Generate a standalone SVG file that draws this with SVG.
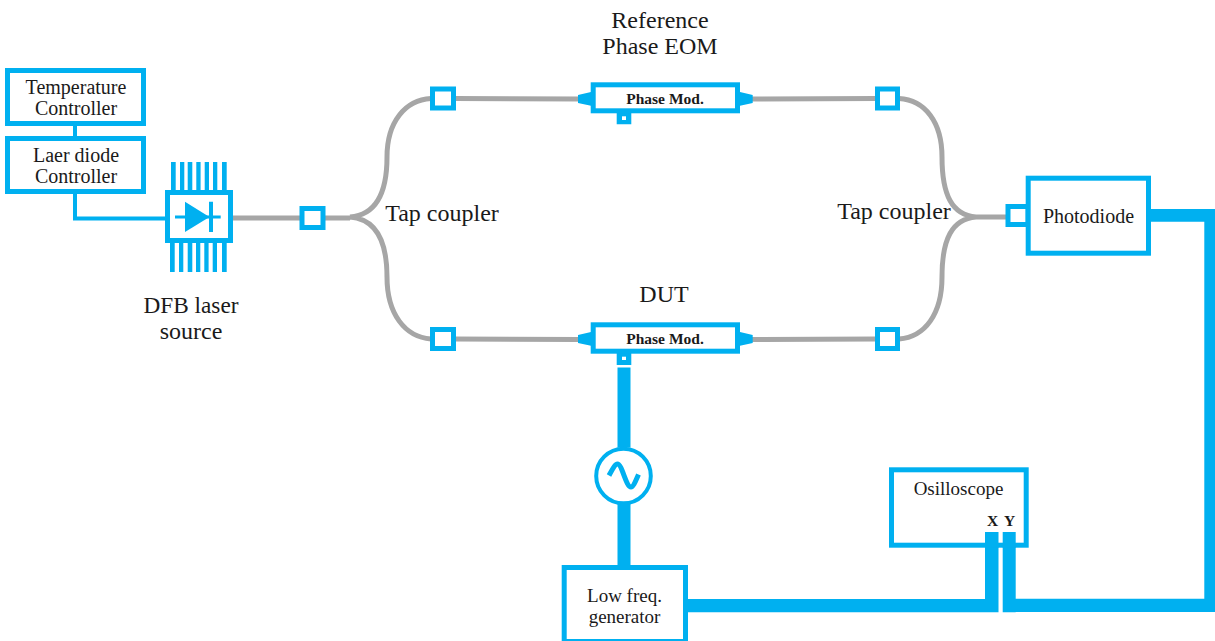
<svg xmlns="http://www.w3.org/2000/svg" width="1215" height="641" viewBox="0 0 1215 641">
<style>
.box{fill:#fff;stroke:#00b0f0;stroke-width:5}
.sq{fill:#fff;stroke:#00b0f0;stroke-width:5}
.fib{fill:none;stroke:#a6a6a6;stroke-width:5}
.thin{fill:none;stroke:#00b0f0;stroke-width:4}
.thick{fill:#00b0f0}
.blue{fill:#00b0f0}
text{font-family:"Liberation Serif",Georgia,serif;fill:#1a1a1a;text-anchor:middle}
.s17{font-size:20px}
.s19{font-size:19px}
.s21{font-size:24px}
.b{font-weight:bold;font-size:15.500px}
</style>
<rect width="1215" height="641" fill="#fff"/>
<g id="connectors">
<path class="thin" d="M75 125V137M75 193V218.500H167"/>
<path class="fib" d="M233 218H350M350 217C375 215 387 195 387 157C387 122 405 100 431 98.500M350 217C375 219 387 239 387 277C387 314 405 337 431 339"/>
<path class="fib" d="M455 98.500L580 99M455 339L580 339.500M752 99L876 98.500M752 339.500L876 339"/>
<path class="fib" d="M1006 217H976M976 217C952 215 942 195 942 157C942 122 925 100 899 98.500M976 217C952 219 942 239 942 277C942 314 925 337 899 339"/>
<path class="thick" d="M617.500 367.500h13v80h-13zM617.500 504h13v64h-13zM686 599H998.500V612.300H686zM985 532H998.500V612.300H985zM1002.700 532H1015.700V612.300H1002.700zM1015 598.700H1215V612H1015zM1204.300 209H1215V612H1204.300zM1150 209H1215V221.700H1150z"/>
</g>
<g id="temperature-controller"><rect class="box" x="7.500" y="70.500" width="136" height="53"/><text class="s17" x="76" y="93.500">Temperature</text><text class="s17" x="76" y="114.500">Controller</text></g>
<g id="laser-diode-controller"><rect class="box" x="7.500" y="138.500" width="136" height="53"/><text class="s17" x="76" y="161.500">Laer diode</text><text class="s17" x="76" y="182.500">Controller</text></g>
<g id="dfb-laser">
<path class="blue" d="M171 162h4.700v28H171zM180 162h4.300v28H180zM187.700 162h4.600v28h-4.600zM196.300 162h4.300v28h-4.300zM204.700 162h4.300v28h-4.300zM213 162h4.300v28H213zM222 162h4.700v28H222zM170 243h4.700v29H170zM179 243h4.300v29H179zM187.700 243h4.600v29h-4.600zM196 243h4.300v29H196zM204.300 243h4.300v29h-4.300zM212.700 243h4.300v29h-4.300zM222 243h4.700v29H222z"/>
<rect class="box" x="167.500" y="192.500" width="63" height="48"/>
<path class="blue" d="M185 201.700V232L209.500 217z"/>
<path class="blue" d="M209 201.700h4V232h-4zM175 215.500h45.700v3H175z"/>
<text class="s21" x="191" y="312.500" textLength="95" lengthAdjust="spacingAndGlyphs">DFB laser</text><text class="s21" x="191" y="338.500">source</text>
</g>
<g id="splitter-in"><rect class="sq" x="302" y="208.500" width="21" height="19"/><text class="s21" x="442" y="220.500">Tap coupler</text></g>
<g id="coupler-a"><rect class="sq" x="432.500" y="89" width="21" height="19"/></g>
<g id="coupler-b"><rect class="sq" x="432.500" y="329.500" width="21" height="19"/></g>
<g id="coupler-c"><rect class="sq" x="877.500" y="89" width="20" height="19"/></g>
<g id="coupler-d"><rect class="sq" x="877.500" y="329.500" width="20" height="19"/></g>
<g id="reference-eom">
<path class="blue" d="M578 95L591 92V105.700L578 103zM740 92L752.700 95V103L740 105.700zM616.700 112h14.600v12.300h-14.600z"/>
<rect fill="#fff" x="622" y="116.300" width="4" height="3.700"/>
<rect class="box" x="593.200" y="84.800" width="144.300" height="26"/>
<text class="b" x="665" y="103.500">Phase Mod.</text>
<text class="s21" x="660" y="28">Reference</text><text class="s21" x="660" y="54">Phase EOM</text>
</g>
<g id="dut">
<path class="blue" d="M578 335L591 332V345.700L578 343zM740 332L752.700 335V343L740 345.700zM616.700 352h14.600v13h-14.600z"/>
<rect fill="#fff" x="622" y="356.700" width="4" height="3.300"/>
<rect class="box" x="593.200" y="324.800" width="144.300" height="26.400"/>
<text class="b" x="665" y="343.500">Phase Mod.</text>
<text class="s21" x="664" y="301.500">DUT</text>
</g>
<g id="signal-source"><circle cx="623.500" cy="476" r="27.300" fill="#fff" stroke="#00b0f0" stroke-width="4"/><path d="M609 475.500C612 470 615 464 617.500 464C622 464 626 487 631 487C633.500 487 636 480 638.500 474.500" fill="none" stroke="#00b0f0" stroke-width="5"/></g>
<g id="low-freq-generator"><rect class="box" x="564.200" y="567.500" width="121.300" height="74"/><text class="s19" x="624.500" y="601.500">Low freq.</text><text class="s19" x="624.500" y="622.500">generator</text></g>
<g id="photodiode"><rect class="sq" x="1008" y="206.500" width="20" height="18"/><rect class="box" x="1028.200" y="178.200" width="120.300" height="75"/><text class="s17" x="1088.500" y="222.500">Photodiode</text></g>
<g id="oscilloscope"><rect class="box" x="891.500" y="469.800" width="134.700" height="75.400" /><path class="thick" d="M985 532H998.500V547.700H985zM1002.700 532H1015.700V547.700H1002.700z"/><text class="s19" x="958.500" y="495">Osilloscope</text><text class="b" x="992.500" y="526">X</text><text class="b" x="1009.500" y="526">Y</text></g>
<g id="label-right"><text class="s21" x="894" y="218.500">Tap coupler</text></g>
</svg>
